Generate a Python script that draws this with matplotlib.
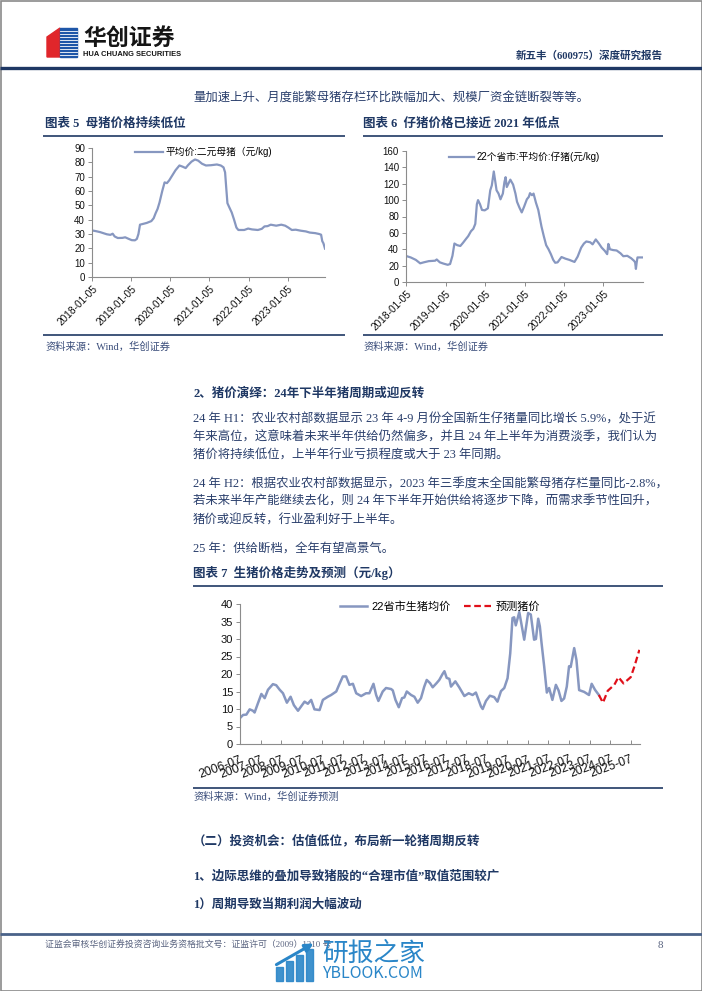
import matplotlib
matplotlib.use('Agg')
import matplotlib.pyplot as plt
from matplotlib.patches import Rectangle, Polygon
import numpy as np

plt.rcParams['font.family'] = ['Liberation Sans', 'Noto Sans CJK SC', 'DejaVu Sans']

W, H = 702, 991
NAVY = '#1F3864'
TEXT = '#2A3F6C'
LINE = '#8797C0'
BODY = ['Liberation Serif', 'Noto Sans CJK SC', 'DejaVu Sans']

# ---- chart 5: 平均价:二元母猪 (元/kg)
sow_year = [2018.00, 2018.10, 2018.21, 2018.30, 2018.38, 2018.47, 2018.53, 2018.58, 2018.66, 2018.78,
            2018.85, 2018.94, 2019.02, 2019.10, 2019.15, 2019.19, 2019.23, 2019.30, 2019.40, 2019.52,
            2019.58, 2019.63, 2019.68, 2019.73, 2019.80, 2019.86, 2019.92, 2019.98, 2020.06, 2020.14,
            2020.24, 2020.32, 2020.40, 2020.46, 2020.55, 2020.64, 2020.72, 2020.82, 2020.92, 2021.05,
            2021.20, 2021.30, 2021.37, 2021.41, 2021.44, 2021.47, 2021.52, 2021.58, 2021.64, 2021.70,
            2021.75, 2021.90, 2022.00, 2022.10, 2022.25, 2022.35, 2022.42, 2022.50, 2022.58, 2022.72,
            2022.85, 2022.95, 2023.03, 2023.12, 2023.22, 2023.35, 2023.48, 2023.58, 2023.72, 2023.82,
            2023.87, 2023.90, 2023.93, 2023.97]
sow_price = [32.5, 32.0, 31.3, 30.5, 29.8, 29.4, 30.2, 28.3, 27.2, 27.3,
             27.7, 26.6, 25.7, 25.6, 26.6, 30.0, 36.5, 37.0, 37.7, 39.0,
             41.0, 44.5, 47.5, 52.0, 60.0, 66.0, 65.5, 67.5, 71.0, 74.5,
             77.8, 77.0, 76.0, 78.0, 80.5, 82.0, 81.2, 79.0, 77.8, 78.0,
             78.5, 77.8, 76.5, 73.0, 62.0, 51.5, 48.5, 45.0, 40.0, 34.5,
             32.8, 32.8, 33.8, 33.2, 32.8, 33.6, 35.3, 35.5, 36.5, 35.8,
             36.5, 35.8, 34.5, 32.8, 33.0, 32.3, 31.8, 31.0, 30.6, 30.0,
             29.5, 25.0, 23.5, 19.8]

# ---- chart 6: 22个省市:平均价:仔猪 (元/kg)
pig_year = [2018.00, 2018.12, 2018.25, 2018.36, 2018.45, 2018.58, 2018.74, 2018.78, 2018.86, 2018.95,
            2019.06, 2019.12, 2019.18, 2019.23, 2019.30, 2019.38, 2019.45, 2019.53, 2019.58, 2019.65,
            2019.71, 2019.76, 2019.80, 2019.83, 2019.88, 2019.93, 2020.00, 2020.08, 2020.14, 2020.18,
            2020.23, 2020.27, 2020.30, 2020.35, 2020.40, 2020.46, 2020.50, 2020.53, 2020.56, 2020.61,
            2020.65, 2020.72, 2020.78, 2020.82, 2020.88, 2020.94, 2021.00, 2021.07, 2021.12, 2021.15,
            2021.20, 2021.24, 2021.30, 2021.36, 2021.44, 2021.50, 2021.56, 2021.62, 2021.68, 2021.74,
            2021.79, 2021.85, 2021.95, 2022.05, 2022.15, 2022.28, 2022.36, 2022.45, 2022.52, 2022.58,
            2022.68, 2022.74, 2022.82, 2022.90, 2022.97, 2023.05, 2023.11, 2023.14, 2023.18, 2023.26,
            2023.35, 2023.45, 2023.52, 2023.62, 2023.72, 2023.79, 2023.82, 2023.84, 2023.86, 2023.88,
            2024.00]
pig_price = [31.8, 30.0, 27.0, 22.8, 24.0, 25.5, 26.0, 27.5, 24.0, 22.5,
             21.0, 22.0, 32.0, 47.0, 45.0, 44.0, 48.0, 53.0, 56.0, 62.0,
             65.0, 71.0, 95.0, 100.0, 95.0, 88.0, 87.5, 90.0, 112.0, 118.0,
             135.0, 122.0, 112.0, 108.0, 101.0, 108.0, 122.0, 128.0, 116.0, 121.0,
             125.0, 119.0, 108.0, 98.0, 91.0, 85.0, 92.0, 101.0, 104.0, 108.5,
             106.0, 108.0, 97.0, 88.0, 68.0, 56.0, 45.0, 40.0, 34.0, 27.0,
             23.5, 24.0, 30.5, 28.5, 27.0, 24.5, 31.0, 42.0, 47.0, 49.5,
             48.5, 46.0, 52.0, 47.0, 42.0, 38.0, 34.0, 46.5, 40.0, 39.0,
             38.5, 35.0, 31.5, 32.0, 29.0, 26.0, 24.0, 16.0, 24.0, 30.0,
             30.0]
tick_dates = ['2018-01-05', '2019-01-05', '2020-01-05', '2021-01-05', '2022-01-05', '2023-01-05']
tick_pos = [2018.01, 2019.01, 2020.01, 2021.01, 2022.01, 2023.01]

# ---- chart 7: 22省市生猪均价 + 预测猪价
hog_year = [2006.50, 2006.65, 2006.81, 2006.97, 2007.13, 2007.21, 2007.37, 2007.54, 2007.70, 2007.86,
            2008.10, 2008.26, 2008.43, 2008.59, 2008.78, 2008.96, 2009.12, 2009.32, 2009.64, 2009.80,
            2009.96, 2010.12, 2010.37, 2010.53, 2010.77, 2010.93, 2011.18, 2011.34, 2011.50, 2011.66,
            2011.82, 2011.99, 2012.15, 2012.39, 2012.63, 2012.79, 2012.99, 2013.12, 2013.23, 2013.44,
            2013.60, 2013.85, 2013.93, 2014.06, 2014.22, 2014.38, 2014.49, 2014.61, 2014.82, 2014.98,
            2015.14, 2015.30, 2015.46, 2015.58, 2015.74, 2015.87, 2016.06, 2016.19, 2016.35, 2016.44,
            2016.55, 2016.68, 2016.76, 2016.97, 2017.16, 2017.41, 2017.62, 2017.81, 2017.97, 2018.22,
            2018.30, 2018.46, 2018.65, 2018.86, 2019.02, 2019.19, 2019.35, 2019.51, 2019.64, 2019.75,
            2019.83, 2019.91, 2020.08, 2020.32, 2020.51, 2020.64, 2020.80, 2020.89, 2021.00, 2021.08,
            2021.16, 2021.29, 2021.42, 2021.53, 2021.69, 2021.86, 2021.99, 2022.13, 2022.26, 2022.39,
            2022.50, 2022.58, 2022.75, 2022.86, 2022.99, 2023.23, 2023.47, 2023.60, 2023.76, 2023.95]
hog_price = [7.4, 8.3, 8.4, 9.9, 9.5, 9.0, 11.6, 14.3, 13.1, 15.5,
             17.1, 16.8, 15.5, 14.5, 11.8, 13.5, 11.1, 9.5, 12.1, 11.5,
             12.6, 9.9, 9.7, 12.6, 13.5, 14.0, 15.0, 17.2, 19.3, 19.3,
             16.9, 17.2, 14.5, 13.7, 14.5, 14.5, 17.2, 14.0, 12.3, 15.0,
             16.0, 15.7, 15.3, 12.6, 10.5, 13.1, 13.3, 15.0, 14.0, 13.5,
             11.8, 13.1, 16.4, 18.3, 17.4, 16.2, 17.4, 18.3, 20.0, 20.8,
             18.9, 18.6, 16.4, 17.9, 16.2, 13.7, 14.5, 14.0, 14.7, 10.7,
             10.0, 12.3, 13.8, 13.4, 12.1, 15.1, 16.0, 18.8, 25.9, 36.0,
             36.2, 33.9, 37.7, 29.8, 37.4, 37.0, 29.8, 30.0, 35.8, 33.6,
             29.0, 22.2, 14.7, 16.0, 12.6, 16.9, 15.3, 12.3, 13.0, 16.4,
             22.2, 22.0, 27.4, 24.0, 15.4, 14.9, 14.0, 17.2, 15.5, 14.0]
fc_year = [2023.95, 2024.15, 2024.38, 2024.70, 2024.90, 2025.15, 2025.50, 2025.68, 2025.92]
fc_price = [14.0, 11.8, 15.2, 16.9, 19.1, 17.3, 19.1, 22.2, 26.9]
hog_ticks = [2006.5 + i for i in range(20)]
hog_labels = ['%d-07' % (2006 + i) for i in range(20)]


fig = plt.figure(figsize=(W / 100, H / 100), dpi=100)
fig.patch.set_facecolor('white')

# page layer in pixel coordinates
bg = fig.add_axes([0, 0, 1, 1])
bg.set_xlim(0, W)
bg.set_ylim(H, 0)
bg.axis('off')


def put(x, y, s, size=8.9, color=TEXT, weight='normal', ha='left', family=BODY):
    bg.text(x, y, s, fontsize=size, color=color, fontweight=weight, ha=ha, va='center', family=family)


def rule(x0, x1, y, color=NAVY, lw=1.2):
    bg.plot([x0, x1], [y, y], color=color, lw=lw, solid_capstyle='butt')


bg.add_patch(Rectangle((0.5, 0.5), W - 1, H - 1, fill=False, ec='#8A8A8A', lw=1.2))

# header / logo
bg.add_patch(Polygon([(47, 37), (60, 28), (60, 57), (47, 57)], color='#E0262B'))
bg.add_patch(Rectangle((60, 28), 17, 29, color='#1E56A8'))
for yy in np.arange(31, 57, 3):
    bg.plot([60, 77], [yy, yy], color='white', lw=0.6)
put(83, 38.5, '华创证券', size=16.5, color='#151515', weight='bold', family=['Noto Sans CJK SC'])
put(83, 54.5, 'HUA CHUANG SECURITIES', size=5.4, color='#151515', weight='bold', family=['Liberation Sans'])
put(663, 56, '新五丰（600975）深度研究报告', size=7.6, color=NAVY, weight='bold', ha='right')
rule(0, W, 68, lw=2.4)

put(193, 99, '量加速上升、月度能繁母猪存栏环比跌幅加大、规模厂资金链断裂等等。')

# chart titles
put(45, 124, '图表 5  母猪价格持续低位', size=9, color=NAVY, weight='bold')
rule(43, 345, 135.5)
put(363, 124, '图表 6  仔猪价格已接近 2021 年低点', size=9, color=NAVY, weight='bold')
rule(363, 663, 135.5)
rule(43, 345, 335)
rule(363, 663, 335)
put(45, 347, '资料来源：Wind，华创证券', size=7.4, color='#3A4D7A')
put(363, 347, '资料来源：Wind，华创证券', size=7.4, color='#3A4D7A')

put(193, 393, '2、猪价演绎：24年下半年猪周期或迎反转', size=9, color=NAVY, weight='bold')
put(193, 420, '24 年 H1：农业农村部数据显示 23 年 4-9 月份全国新生仔猪量同比增长 5.9%，处于近')
put(193, 437.5, '年来高位，这意味着未来半年供给仍然偏多，并且 24 年上半年为消费淡季，我们认为')
put(193, 456, '猪价将持续低位，上半年行业亏损程度或大于 23 年同期。')
put(193, 485, '24 年 H2：根据农业农村部数据显示，2023 年三季度末全国能繁母猪存栏量同比-2.8%，')
put(193, 502, '若未来半年产能继续去化，则 24 年下半年开始供给将逐步下降，而需求季节性回升，')
put(193, 520.5, '猪价或迎反转，行业盈利好于上半年。')
put(193, 549, '25 年：供给断档，全年有望高景气。')
put(193, 573, '图表 7  生猪价格走势及预测（元/kg）', size=9, color=NAVY, weight='bold')
rule(193, 663, 586)
rule(193, 663, 788)
put(193, 797, '资料来源：Wind，华创证券预测', size=7.4, color='#3A4D7A')

put(193, 841, '（二）投资机会：估值低位，布局新一轮猪周期反转', size=9, color=NAVY, weight='bold')
put(193, 877, '1、边际思维的叠加导致猪股的“合理市值”取值范围较广', size=9, color=NAVY, weight='bold')
put(193, 905, '1）周期导致当期利润大幅波动', size=9, color=NAVY, weight='bold')

# footer
rule(0, W, 934, color='#4A6289', lw=2)
put(45, 945, '证监会审核华创证券投资咨询业务资格批文号：证监许可（2009）1210 号', size=6.4, color='#5A6480')
put(663, 945, '8', size=8, color='#5A6480', ha='right')

# watermark
WM = '#2A86C8'
for bx, bh in [(276, 14), (286, 20), (296, 26), (306, 32)]:
    bg.add_patch(Rectangle((bx, 981 - bh), 7, bh, color=WM, alpha=0.9))
bg.annotate('', xy=(316, 942), xytext=(274, 966),
            arrowprops=dict(arrowstyle='-|>', color=WM, lw=2.2, mutation_scale=12))
put(322, 954, '研报之家', size=18.5, color=WM, family=['Noto Sans CJK SC'])
put(322, 974, 'YBLOOK.COM', size=11.5, color=WM, family=['Noto Sans CJK SC'])


def add_px_axes(x0, x1, y_top, y_bot):
    return fig.add_axes([x0 / W, 1 - y_bot / H, (x1 - x0) / W, (y_bot - y_top) / H])


def style(ax, ymax, step, xin=False):
    for s in ['top', 'right']:
        ax.spines[s].set_visible(False)
    for s in ['left', 'bottom']:
        ax.spines[s].set_color('#8C8C8C')
        ax.spines[s].set_linewidth(0.8)
    ax.set_ylim(0, ymax)
    ax.set_yticks(np.arange(0, ymax + 1, step))
    ax.tick_params(axis='y', colors='#8C8C8C', labelcolor='#111111', labelsize=7, length=3, width=0.7, pad=2)
    ax.tick_params(axis='x', colors='#8C8C8C', labelcolor='#111111', labelsize=7.3, length=3, width=0.7,
                   direction='in' if xin else 'out', pad=2)
    ax.set_facecolor('white')


# chart 5
ax5 = add_px_axes(92, 325, 148, 277)
ax5.plot(sow_year, sow_price, color=LINE, lw=1.6, label='平均价:二元母猪（元/kg)')
style(ax5, 90, 10)
ax5.set_xlim(2018.0, 2023.97)
ax5.set_xticks(tick_pos)
ax5.set_xticklabels(tick_dates, rotation=45, ha='right', rotation_mode='anchor')
ax5.legend(frameon=False, loc='center', bbox_to_anchor=(0.48, 0.97), fontsize=7,
           handlelength=2.8, handletextpad=0.3, borderpad=0)

# chart 6
ax6 = add_px_axes(406, 643, 151, 282)
ax6.plot(pig_year, pig_price, color=LINE, lw=1.6, label='22个省市:平均价:仔猪(元/kg)')
style(ax6, 160, 20)
ax6.set_xlim(2018.0, 2024.02)
ax6.set_xticks(tick_pos)
ax6.set_xticklabels(tick_dates, rotation=45, ha='right', rotation_mode='anchor')
ax6.legend(frameon=False, loc='center', bbox_to_anchor=(0.5, 0.955), fontsize=7,
           handlelength=2.6, handletextpad=0.3, borderpad=0)

# chart 7
ax7 = add_px_axes(240, 640, 604, 744)
ax7.plot(hog_year, hog_price, color=LINE, lw=1.8, label='22省市生猪均价')
ax7.plot(fc_year, fc_price, color='#E0101A', lw=1.6, ls=(0, (3, 1.6)), label='预测猪价')
style(ax7, 40, 5, xin=True)
ax7.tick_params(axis='y', labelsize=8)
ax7.tick_params(axis='x', pad=7)
ax7.set_xlim(2006.5, 2025.95)
ax7.set_xticks(hog_ticks)
ax7.set_xticklabels(hog_labels, rotation=20, ha='right', rotation_mode='anchor', fontsize=8.8)
ax7.legend(frameon=False, loc='center', bbox_to_anchor=(0.5, 0.98), fontsize=8, ncol=2,
           handlelength=2.4, handletextpad=0.4, columnspacing=1.2, borderpad=0)

fig.savefig('out.png', dpi=100)
